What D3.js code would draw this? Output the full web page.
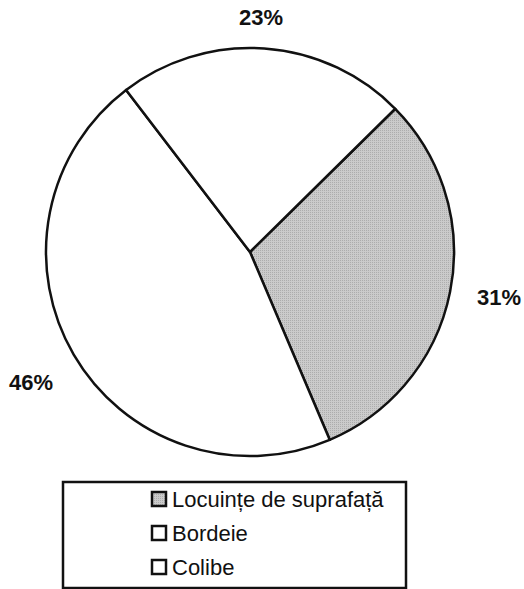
<!DOCTYPE html>
<html><head><meta charset="utf-8">
<script src="https://cdn.jsdelivr.net/npm/d3@7"></script>
<style>body{margin:0;background:#fff}</style>
</head><body>
<svg id="c" width="524" height="589"></svg>
<script>
const categories = ["Locuințe de suprafață", "Bordeie", "Colibe"];
const values = [31, 46, 23];
const labels = ["31%", "46%", "23%"];
const colors = ["#c4c4c4", "#ffffff", "#ffffff"];

const svg = d3.select("#c");
const cx = 250, cy = 252, r = 204;
const startA = 45.4 * Math.PI / 180;

const pie = d3.pie().sort(null).value(d => d)
  .startAngle(startA).endAngle(startA + 2 * Math.PI);
const arcs = pie(values);
const arc = d3.arc().innerRadius(0).outerRadius(r);

const defs = svg.append("defs");
const pat = defs.append("pattern").attr("id", "dots").attr("width", 2).attr("height", 2)
  .attr("patternUnits", "userSpaceOnUse");
pat.append("rect").attr("width", 2).attr("height", 2).attr("fill", "#cbcbcb");
pat.append("rect").attr("width", 1).attr("height", 1).attr("fill", "#adadad");

const g = svg.append("g").attr("transform", `translate(${cx},${cy})`);
g.selectAll("path").data(arcs).enter().append("path")
  .attr("d", arc)
  .attr("fill", (d, i) => i === 0 ? "url(#dots)" : colors[i])
  .attr("stroke", "#111").attr("stroke-width", 2.5).attr("stroke-linejoin", "round");

// labels
const labelPos = [[499, 305], [31, 390], [261, 25]];
svg.selectAll("text.lbl").data(arcs).enter().append("text")
  .attr("class", "lbl")
  .attr("x", (d, i) => labelPos[i][0])
  .attr("y", (d, i) => labelPos[i][1])
  .attr("text-anchor", "middle")
  .attr("font-family", "Liberation Sans, Arial, sans-serif")
  .attr("font-weight", "bold").attr("font-size", 22).attr("fill", "#111")
  .text((d, i) => labels[i]);

// legend
const lg = svg.append("g");
lg.append("rect").attr("x", 63).attr("y", 482).attr("width", 343).attr("height", 106)
  .attr("fill", "#fff").attr("stroke", "#111").attr("stroke-width", 2.5);
const rows = lg.selectAll("g.row").data(categories).enter().append("g")
  .attr("transform", (d, i) => `translate(152, ${492 + i * 34})`);
rows.append("rect").attr("x", 0).attr("y", 0).attr("width", 14).attr("height", 14)
  .attr("fill", (d, i) => i === 0 ? "url(#dots)" : colors[i])
  .attr("stroke", "#111").attr("stroke-width", 2.5);
rows.append("text").attr("x", 20).attr("y", 15)
  .attr("font-family", "Liberation Sans, Arial, sans-serif")
  .attr("font-size", 22).attr("fill", "#111")
  .text(d => d);
</script>
</body></html>
